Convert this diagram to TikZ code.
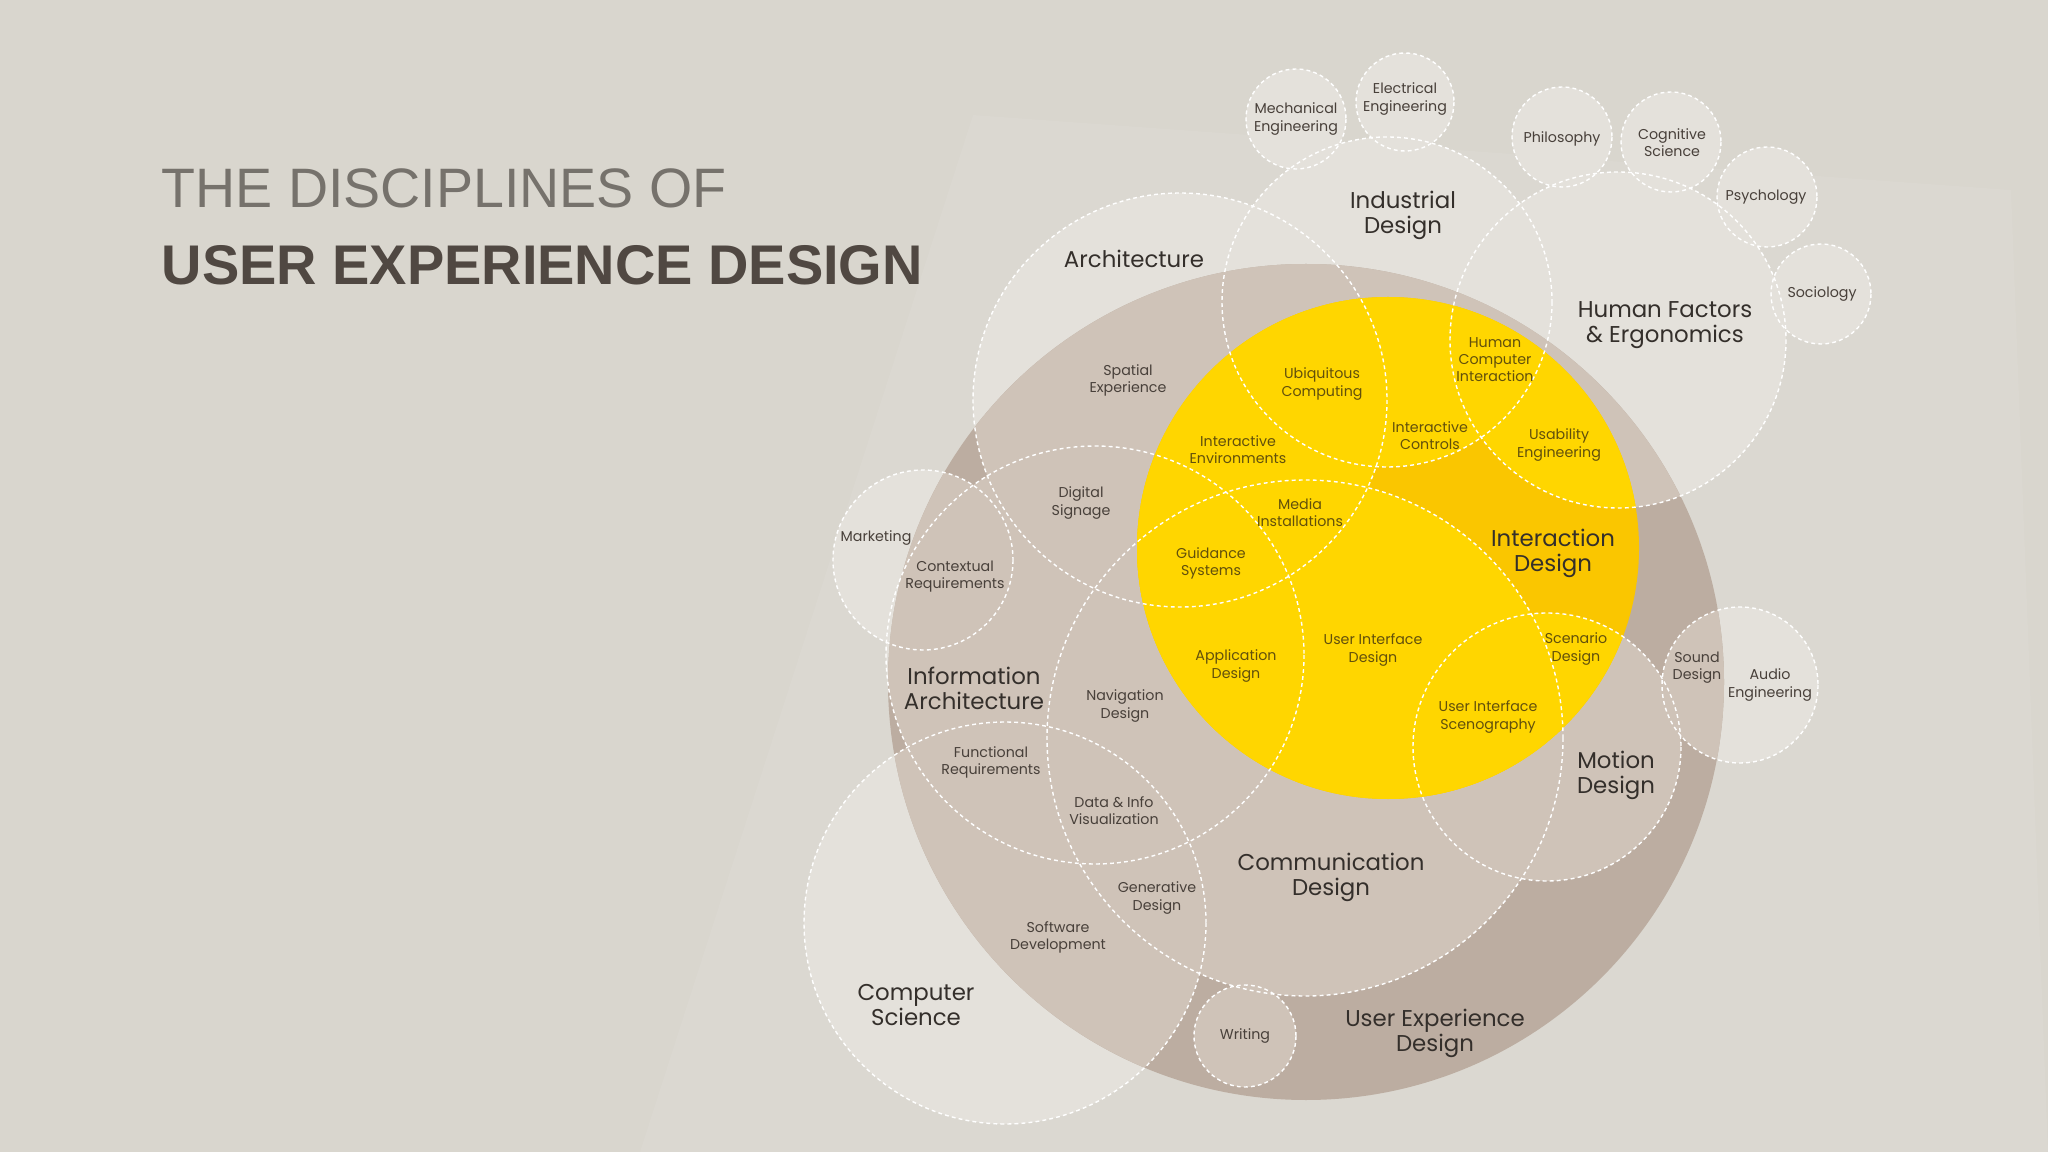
\documentclass[tikz,border=0pt]{standalone}
\usepackage{fontspec}
\setmainfont{Poppins}
\newfontfamily\headfont{Liberation Sans}

\definecolor{bgcol}{RGB}{217,214,206}
\definecolor{bandcol}{RGB}{219,216,209}
\definecolor{paler}{RGB}{228,225,219}
\definecolor{uxdcol}{RGB}{188,173,161}
\definecolor{innercol}{RGB}{207,195,184}
\definecolor{orangecol}{RGB}{250,198,0}
\definecolor{yellowcol}{RGB}{255,214,0}
\definecolor{labeldark}{RGB}{52,47,43}
\definecolor{labelsmall}{RGB}{72,64,58}
\definecolor{labelyel}{RGB}{98,80,12}
\definecolor{titlegray}{RGB}{118,114,108}
\definecolor{titledark}{RGB}{80,72,66}

% centre x / centre y / radius of every discipline circle
\newcommand\disclist{1180/400/207, 1387/302/165, 1618/340/168, 1095/655/209,
  1305/738/258, 1547/747/134, 1005/923/201, 923/560/90, 1245/1036/51,
  1740/685/78, 1296/119/50, 1405/102/49, 1562/137/50, 1671/142/50,
  1767/197/50, 1821/294/50}

\begin{document}
\begin{tikzpicture}[x=0.01cm, y=-0.01cm,
  font=\fontsize{4.05}{4.85}\selectfont,
  disc/.style={draw=white, line width=0.4pt, dash pattern=on 1.1pt off 0.9pt},
  big/.style={align=center, text=labeldark, font=\fontsize{6.5}{7.1}\selectfont},
  small/.style={align=center, text=labelsmall},
  inyel/.style={align=center, text=labelyel}]

%background
  \fill[bgcol] (0,0) rectangle (2048,1152);
  \fill[bandcol] (973,115) -- (2011,190) -- (2048,1152) -- (640,1152) -- cycle;
  \useasboundingbox (0,0) rectangle (2048,1152);

%title
  \node[anchor=base west, inner sep=0, text=titlegray,
    font=\headfont\fontsize{15.8}{18}\selectfont] (title1) at (161,208) {THE DISCIPLINES OF};
  \node[anchor=base west, inner sep=0, text=titledark,
    font=\headfont\bfseries\fontsize{15.9}{18}\selectfont] (title2) at (161,285) {USER EXPERIENCE DESIGN};

%discipline circles, outside
  \foreach \cx/\cy/\r in \disclist
    \fill[paler] (\cx,\cy) circle [radius=\r];

%user experience design
  \fill[uxdcol] (1306,682) circle [radius=418];
  \begin{scope}
    \clip (1306,682) circle [radius=418];
    \foreach \cx/\cy/\r in \disclist
      \fill[innercol] (\cx,\cy) circle [radius=\r];
  \end{scope}

%interaction design
  \fill[orangecol] (1388,548) circle [radius=251];
  \begin{scope}
    \clip (1388,548) circle [radius=251];
    \foreach \cx/\cy/\r in \disclist
      \fill[yellowcol] (\cx,\cy) circle [radius=\r];
  \end{scope}

%dashed outlines
  \foreach \cx/\cy/\r in \disclist
    \draw[disc] (\cx,\cy) circle [radius=\r];

%main disciplines
  \node[big] (arch) at (1134,259) {Architecture};
  \node[big] (indus) at (1403,215) {Industrial\\Design};
  \node[big] (human) at (1665,325) {Human Factors\\\& Ergonomics};
  \node[big] (inter) at (1553,553) {Interaction\\Design};
  \node[big] (infoarch) at (974,688) {Information\\Architecture};
  \node[big] (motion) at (1616,775) {Motion\\Design};
  \node[big] (comm) at (1331,877) {Communication\\Design};
  \node[big] (compsci) at (916,1005) {Computer\\Science};
  \node[big] (uxd) at (1435,1033) {User Experience\\Design};

%neighbour fields and overlaps
  \foreach \n/\x/\y/\t in {mech/1296/119/{Mechanical\\Engineering},
    elec/1405/99/{Electrical\\Engineering}, philo/1562/139/Philosophy,
    cogsci/1672/143/{Cognitive\\Science}, psych/1766/197/Psychology,
    socio/1822/294/Sociology, spatial/1128/380/{Spatial\\Experience},
    signage/1081/503/{Digital\\Signage}, market/876/538/Marketing,
    context/955/577/{Contextual\\Requirements}, navi/1125/706/{Navigation\\Design},
    func/991/762/{Functional\\Requirements}, datavis/1114/811/{Data \& Info\\Visualization},
    gener/1157/898/{Generative\\Design}, soft/1058/937/{Software\\Development},
    writing/1245/1036/Writing, sound/1697/668/{Sound\\Design},
    audio/1770/685/{Audio\\Engineering}}
    \node[small] (\n) at (\x,\y) {\t};

%overlaps inside interaction design
  \foreach \n/\x/\y/\t in {ubi/1322/384/{Ubiquitous\\Computing},
    hci/1495/360/{Human\\Computer\\Interaction}, controls/1430/436/{Interactive\\Controls},
    usab/1559/445/{Usability\\Engineering}, environ/1238/450/{Interactive\\Environments},
    media/1300/513/{Media\\Installations}, guide/1211/563/{Guidance\\Systems},
    appl/1236/666/{Application\\Design}, uid/1373/650/{User Interface\\Design},
    scen/1576/649/{Scenario\\Design}, scenog/1488/717/{User Interface\\Scenography}}
    \node[inyel] (\n) at (\x,\y) {\t};

\end{tikzpicture}
\end{document}
